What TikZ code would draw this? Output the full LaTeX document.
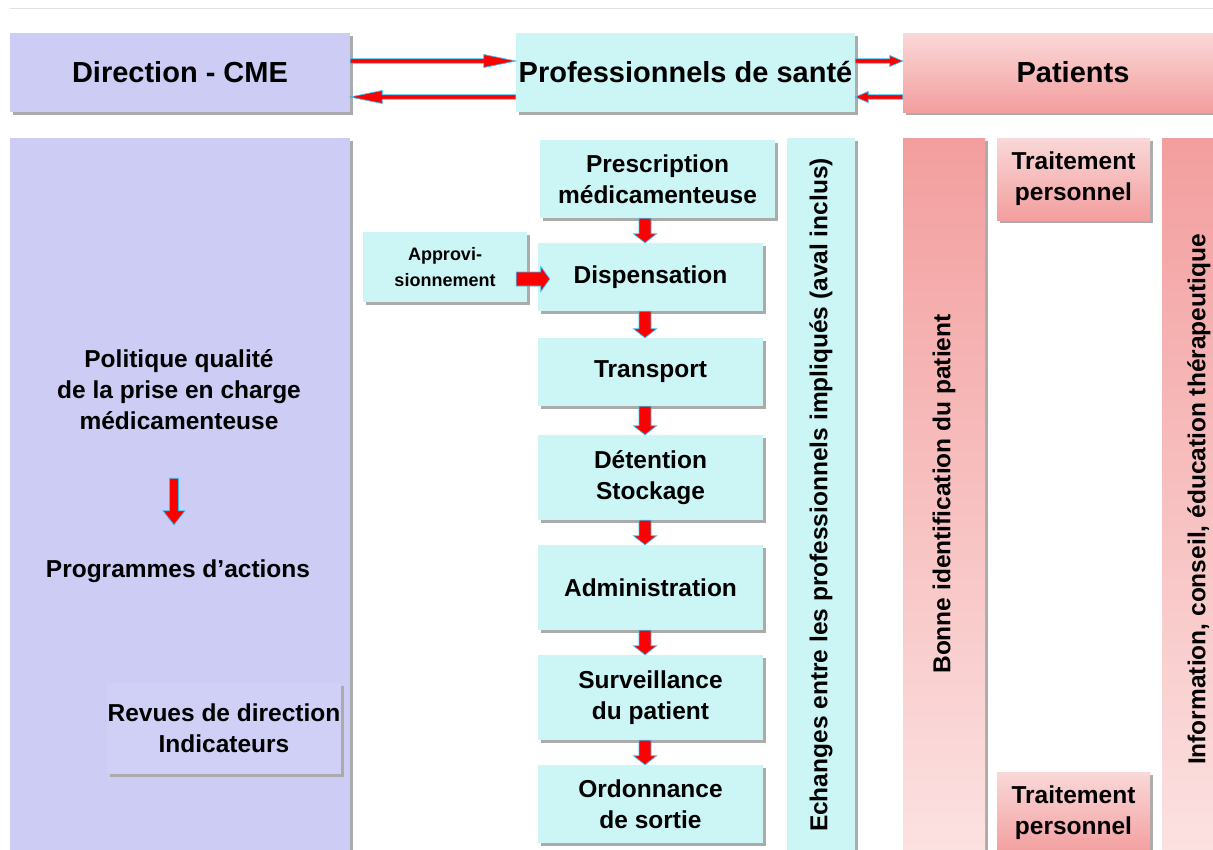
\documentclass[tikz,border=0pt]{standalone}
\usepackage{fontspec}
\setmainfont{Liberation Sans}
\usetikzlibrary{shadows,calc}
\definecolor{lav}{RGB}{204,204,245}
\definecolor{lavb}{RGB}{208,208,246}
\definecolor{cya}{RGB}{204,246,246}
\definecolor{pinkL}{RGB}{252,226,226}
\definecolor{pinkT}{RGB}{250,216,216}
\definecolor{pinkD}{RGB}{243,158,158}
\definecolor{arrowcy}{RGB}{40,200,255}
\newcommand\bodyfont{\bfseries\fontsize{24.5}{31}\selectfont}
\newcommand\hdrfont{\bfseries\fontsize{29}{34}\selectfont}
\newcommand\smallfont{\bfseries\fontsize{18}{26}\selectfont}
\tikzset{
  sh/.style={drop shadow={shadow xshift=3pt,shadow yshift=-3pt,fill=black!33,opacity=1}},
  box/.style={rectangle, inner sep=0pt, sh, align=center, font=\bodyfont},
  lavbox/.style={box, fill=lav},
  cybox/.style={box, fill=cya},
  pinkhdr/.style={box, top color=pinkT, bottom color=pinkD},
  pinkcol/.style={box, top color=pinkD, bottom color=pinkL},
  lbl/.style={inner sep=0pt, align=center, font=\bodyfont},
  fatarrow/.style={fill=red, draw=arrowcy, line width=0.7pt, line join=miter},
}
% #1 start, #2 end, #3 half shaft, #4 half head, #5 head length
\newcommand\fatdown[5]{\filldraw[fatarrow] let \p1=#1, \p2=#2 in
  (\x1-#3,\y1) -- (\x1+#3,\y1) -- (\x1+#3,\y2+#5) -- (\x1+#4,\y2+#5) -- (\x1,\y2)
  -- (\x1-#4,\y2+#5) -- (\x1-#3,\y2+#5) -- cycle;}
\newcommand\fatright[5]{\filldraw[fatarrow] let \p1=#1, \p2=#2 in
  (\x1,\y1-#3) -- (\x2-#5,\y1-#3) -- (\x2-#5,\y1-#4) -- (\x2,\y1) -- (\x2-#5,\y1+#4)
  -- (\x2-#5,\y1+#3) -- (\x1,\y1+#3) -- cycle;}
\newcommand\fatleft[5]{\filldraw[fatarrow] let \p1=#1, \p2=#2 in
  (\x1,\y1-#3) -- (\x2+#5,\y1-#3) -- (\x2+#5,\y1-#4) -- (\x2,\y1) -- (\x2+#5,\y1+#4)
  -- (\x2+#5,\y1+#3) -- (\x1,\y1+#3) -- cycle;}
\begin{document}
\begin{tikzpicture}[x=1pt,y=-1pt]
\useasboundingbox (0,0) rectangle (1213,849);
\fill[white] (0,0) rectangle (1213,849);
\draw[black!12, line width=1pt] (10,8) -- (1213,8);

% headers
\node[lavbox, minimum width=340pt, minimum height=79pt, font=\hdrfont] (dir) at (180,72.5) {Direction - CME};
\node[cybox, minimum width=339pt, minimum height=79pt, font=\hdrfont] (prof) at (685.5,72.5) {Professionnels de santé};
\node[pinkhdr, minimum width=340pt, minimum height=79pt, font=\hdrfont] (pat) at (1073,72.5) {Patients};

\fatright{([yshift=11.5pt]dir.east)}{([yshift=11.5pt]prof.west)}{2.2pt}{6.5pt}{32pt}
\fatleft{([yshift=-24.5pt]prof.west)}{([yshift=-24.5pt]dir.east)}{2.2pt}{6.5pt}{32pt}
\fatright{([yshift=11.5pt]prof.east)}{([yshift=11.5pt]pat.west)}{2.2pt}{5.5pt}{13pt}
\fatleft{([yshift=-24.5pt]pat.west)}{([yshift=-24.5pt]prof.east)}{2.2pt}{5.5pt}{13pt}

% left column
\node[lavbox, minimum width=340pt, minimum height=722pt] (lcol) at (180,499) {};
\node[lbl] (pol) at (179,390) {Politique qualité\\de la prise en charge\\médicamenteuse};
\node[lbl] (prog) at (178,571) {Programmes d’actions};
\fatdown{([xshift=-5pt,yshift=-48pt]pol.south)}{([yshift=34.5pt]prog.north)}{4.5pt}{11pt}{14pt}
\node[box, fill=lavb, minimum width=234pt, minimum height=91pt] (rev) at (224,728.5) {Revues de direction\\Indicateurs};

% centre column
\node[cybox, minimum width=235pt, minimum height=78pt] (pres) at (657.5,179) {Prescription\\médicamenteuse};
\node[cybox, minimum width=225pt, minimum height=68pt] (disp) at (650.5,277) {Dispensation};
\node[cybox, minimum width=225pt, minimum height=68pt] (trans) at (650.5,372) {Transport};
\node[cybox, minimum width=225pt, minimum height=85pt] (det) at (650.5,477.5) {Détention\\Stockage};
\node[cybox, minimum width=225pt, minimum height=85pt] (adm) at (650.5,587.5) {Administration};
\node[cybox, minimum width=225pt, minimum height=85pt] (surv) at (650.5,697.5) {Surveillance\\du patient};
\node[cybox, minimum width=225pt, minimum height=78pt] (ord) at (650.5,804) {Ordonnance\\de sortie};

\fatdown{([xshift=-12.5pt]pres.south)}{(disp.north)}{6pt}{11.5pt}{9pt}
\fatdown{([xshift=-5.5pt]disp.south)}{(trans.north)}{6pt}{11.5pt}{9pt}
\fatdown{([xshift=-5.5pt]trans.south)}{(det.north)}{6pt}{11.5pt}{9pt}
\fatdown{([xshift=-5.5pt]det.south)}{(adm.north)}{6pt}{11.5pt}{9pt}
\fatdown{([xshift=-5.5pt]adm.south)}{(surv.north)}{6pt}{11.5pt}{9pt}
\fatdown{([xshift=-5.5pt]surv.south)}{(ord.north)}{6pt}{11.5pt}{9pt}

\node[cybox, minimum width=164pt, minimum height=70pt, font=\smallfont] (appro) at (445,267) {Approvi-\\sionnement};
\fatright{($(appro.east |- disp.west)+(-11,2)$)}{($(disp.west)+(12,2)$)}{7pt}{12.5pt}{9pt}

\node[cybox, minimum width=68pt, minimum height=722pt] (ech) at (821,499) {};
\node[lbl, rotate=90] (echt) at ([yshift=4pt]ech.center) {Echanges entre les professionnels impliqués (aval inclus)};

% patients side
\node[pinkcol, minimum width=82pt, minimum height=722pt] (bon) at (944,499) {};
\node[lbl, rotate=90] (bont) at ([yshift=5pt]bon.center) {Bonne identification du patient};

\node[box, top color=pinkT, bottom color=pinkD, minimum width=153pt, minimum height=82pt] (tr1) at (1073.5,179) {Traitement\\personnel};
\node[box, top color=pinkT, bottom color=pinkD, minimum width=153pt, minimum height=82pt] (tr2) at (1073.5,813) {Traitement\\personnel};

\node[pinkcol, minimum width=88pt, minimum height=722pt] (info) at (1206,499) {};
\node[lbl, rotate=90] (infot) at (1199,499.5) {Information, conseil, éducation thérapeutique};
\end{tikzpicture}
\end{document}
